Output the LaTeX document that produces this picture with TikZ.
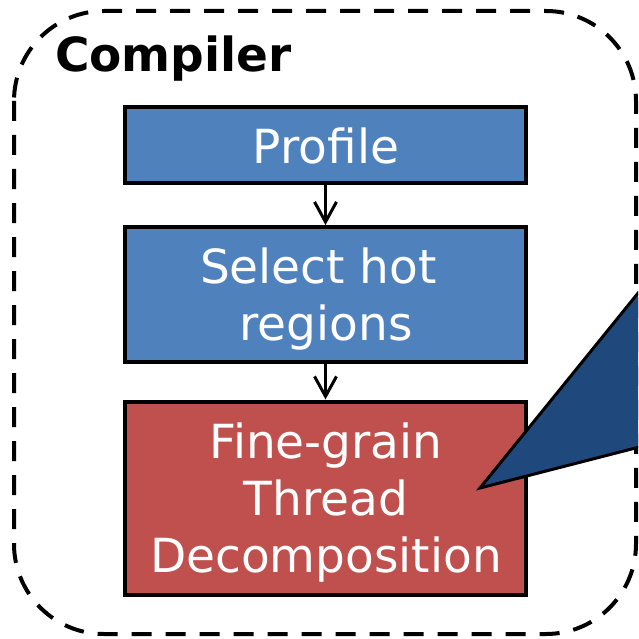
\documentclass[tikz,border=0pt]{standalone}
\usepackage{fontspec}
\setmainfont{DejaVu Sans}
\usetikzlibrary{arrows.meta}
\definecolor{stepblue}{HTML}{4F81BD}
\definecolor{stepred}{HTML}{C0504D}
\definecolor{calloutblue}{HTML}{1F497D}
\tikzset{
  stepbox/.style={draw=black, line width=4pt, inner sep=0pt, minimum width=401pt},
  steptext/.style={text=white, align=center, anchor=base, inner sep=0pt,
    font=\fontsize{47}{57}\selectfont},
  flow/.style={line width=3pt, -{Straight Barb[length=20pt,width=22pt,line width=3pt]}},
  frame/.style={draw=black, line width=4pt, dash pattern=on 20pt off 14pt, rounded corners=90pt}
}
\begin{document}
\begin{tikzpicture}[x=1pt,y=-1pt]
\useasboundingbox (0,0) rectangle (638,639);
\fill[white] (0,0) rectangle (638,639);
% dashed compiler frame
\draw[frame] (14,11) rectangle (636,634);
\node[anchor=base west, font=\fontsize{47}{57}\selectfont\bfseries, inner sep=0pt] (title) at (55,72) {Compiler};
% pipeline step boxes
\node[stepbox, fill=stepblue, minimum height=76pt] (profile) at (325.5,145) {};
\node[stepbox, fill=stepblue, minimum height=135pt] (select) at (325.5,294.5) {};
\node[stepbox, fill=stepred, minimum height=193pt] (decomp) at (325.5,498) {};
% step labels, placed by the baseline of their last line
\node[steptext] (profiletext) at (326,164) {Profile};
\node[steptext] (selecttext) at (326,340) {Select hot\hspace*{15pt}\\regions};
\node[steptext] (decomptext) at (326,572) {Fine-grain\\Thread\\Decomposition};
\draw[flow] (profile.south) -- (select.north);
\draw[flow] (select.south) -- (decomp.north);
% callout pointer
\coordinate (tip) at (480,488);
\begin{scope}
\clip (0,0) rectangle (638,639);
\draw[fill=calloutblue, line width=3pt, line join=miter] (tip) -- (690,229) -- (690,434) -- cycle;
\end{scope}
\end{tikzpicture}
\end{document}
